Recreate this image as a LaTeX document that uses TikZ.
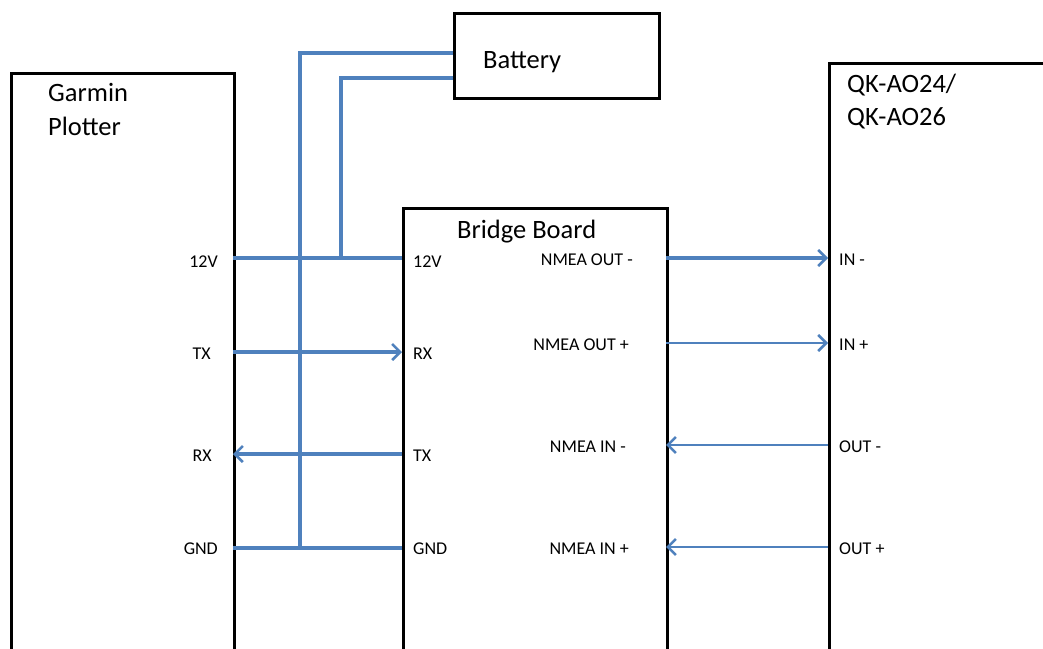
\documentclass[tikz,border=0pt]{standalone}
\usepackage{fontspec}
\setmainfont{Carlito}
\usetikzlibrary{arrows.meta}
\definecolor{wire}{HTML}{4F81BD}
\begin{document}
\begin{tikzpicture}[x=1pt,y=-1pt,
  box/.style={draw=black,line width=2.8pt,rectangle,anchor=north west,inner sep=0pt},
  big/.style={font=\fontsize{26.5}{34}\selectfont,inner sep=0pt,align=left},
  lab/.style={font=\fontsize{18}{22}\selectfont,inner sep=0pt},
  w/.style={draw=wire,line width=3.2pt},
  wt/.style={draw=wire,line width=2.2pt},
  arr/.style={-{Straight Barb[length=8pt,width=16pt,line width=2.6pt]}}
]
\useasboundingbox (0,0) rectangle (1043,648);
\fill[white] (0,0) rectangle (1043,648);
% boxes
\node[box,minimum width=223pt,minimum height=640pt] (garmin) at (10,72) {};
\node[box,minimum width=205pt,minimum height=85pt] (battery) at (453,12) {};
\node[box,minimum width=264pt,minimum height=500pt] (bridge) at (402,207) {};
\node[box,minimum width=300pt,minimum height=640pt] (qk) at (828,62) {};
% titles
\node[big,anchor=base west] (tg1) at (48,101) {Garmin};
\node[big,anchor=base west] (tg2) at (48,135) {Plotter};
\node[big,anchor=base west] (tb) at (483,68) {Battery};
\node[big,anchor=base west] (tbr) at (457,238) {Bridge Board};
\node[big,anchor=base west] (tq1) at (847,92) {QK-AO24/};
\node[big,anchor=base west] (tq2) at (847,125) {QK-AO26};
% pin labels, garmin
\node[lab,anchor=base east] (l12) at (218,267) {12V};
\node[lab,anchor=base east] (ltx) at (211,359) {TX};
\node[lab,anchor=base east] (lrx) at (212,461) {RX};
\node[lab,anchor=base east] (lgnd) at (218,554) {GND};
% bridge left
\node[lab,anchor=base west] (b12) at (413,267) {12V};
\node[lab,anchor=base west] (brx) at (413,359) {RX};
\node[lab,anchor=base west] (btx) at (413,461) {TX};
\node[lab,anchor=base west] (bgnd) at (413,554) {GND};
% bridge right
\node[lab,anchor=base east] (n1) at (633,265) {NMEA OUT -};
\node[lab,anchor=base east] (n2) at (629,350) {NMEA OUT +};
\node[lab,anchor=base east] (n3) at (626,452) {NMEA IN -};
\node[lab,anchor=base east] (n4) at (629,554) {NMEA IN +};
% qk
\node[lab,anchor=base west] (q1) at (839,265) {IN -};
\node[lab,anchor=base west] (q2) at (839,350) {IN +};
\node[lab,anchor=base west] (q3) at (839,452) {OUT -};
\node[lab,anchor=base west] (q4) at (839,554) {OUT +};
% coordinates
\coordinate (g12) at (233,258);
\coordinate (gtx) at (233,352);
\coordinate (grx) at (233,454);
\coordinate (ggnd) at (233,548);
\coordinate (b12p) at (402,258);
\coordinate (brxp) at (402,352);
\coordinate (btxp) at (402,454);
\coordinate (bgndp) at (402,548);
\coordinate (bo1) at (666,258);
\coordinate (bo2) at (666,343);
\coordinate (bi1) at (666,445);
\coordinate (bi2) at (666,547);
\coordinate (qi1) at (828,258);
\coordinate (qi2) at (828,343);
\coordinate (qo1) at (828,445);
\coordinate (qo2) at (828,547);
\coordinate (bat1) at (453,53);
\coordinate (bat2) at (453,78);
\coordinate (j1) at (300,548);
\coordinate (j2) at (341,258);
% wires
\draw[w] (g12) -- (b12p);
\draw[w] (bat1) -| (j1);
\draw[w] (bat2) -| (j2);
\draw[w] (ggnd) -- (bgndp);
\draw[w,arr] (gtx) -- (brxp);
\draw[w,arr] (btxp) -- (grx);
\draw[w,arr] (bo1) -- (qi1);
\draw[wt,arr] (bo2) -- (qi2);
\draw[wt,arr] (qo1) -- (bi1);
\draw[wt,arr] (qo2) -- (bi2);
\end{tikzpicture}
\end{document}
